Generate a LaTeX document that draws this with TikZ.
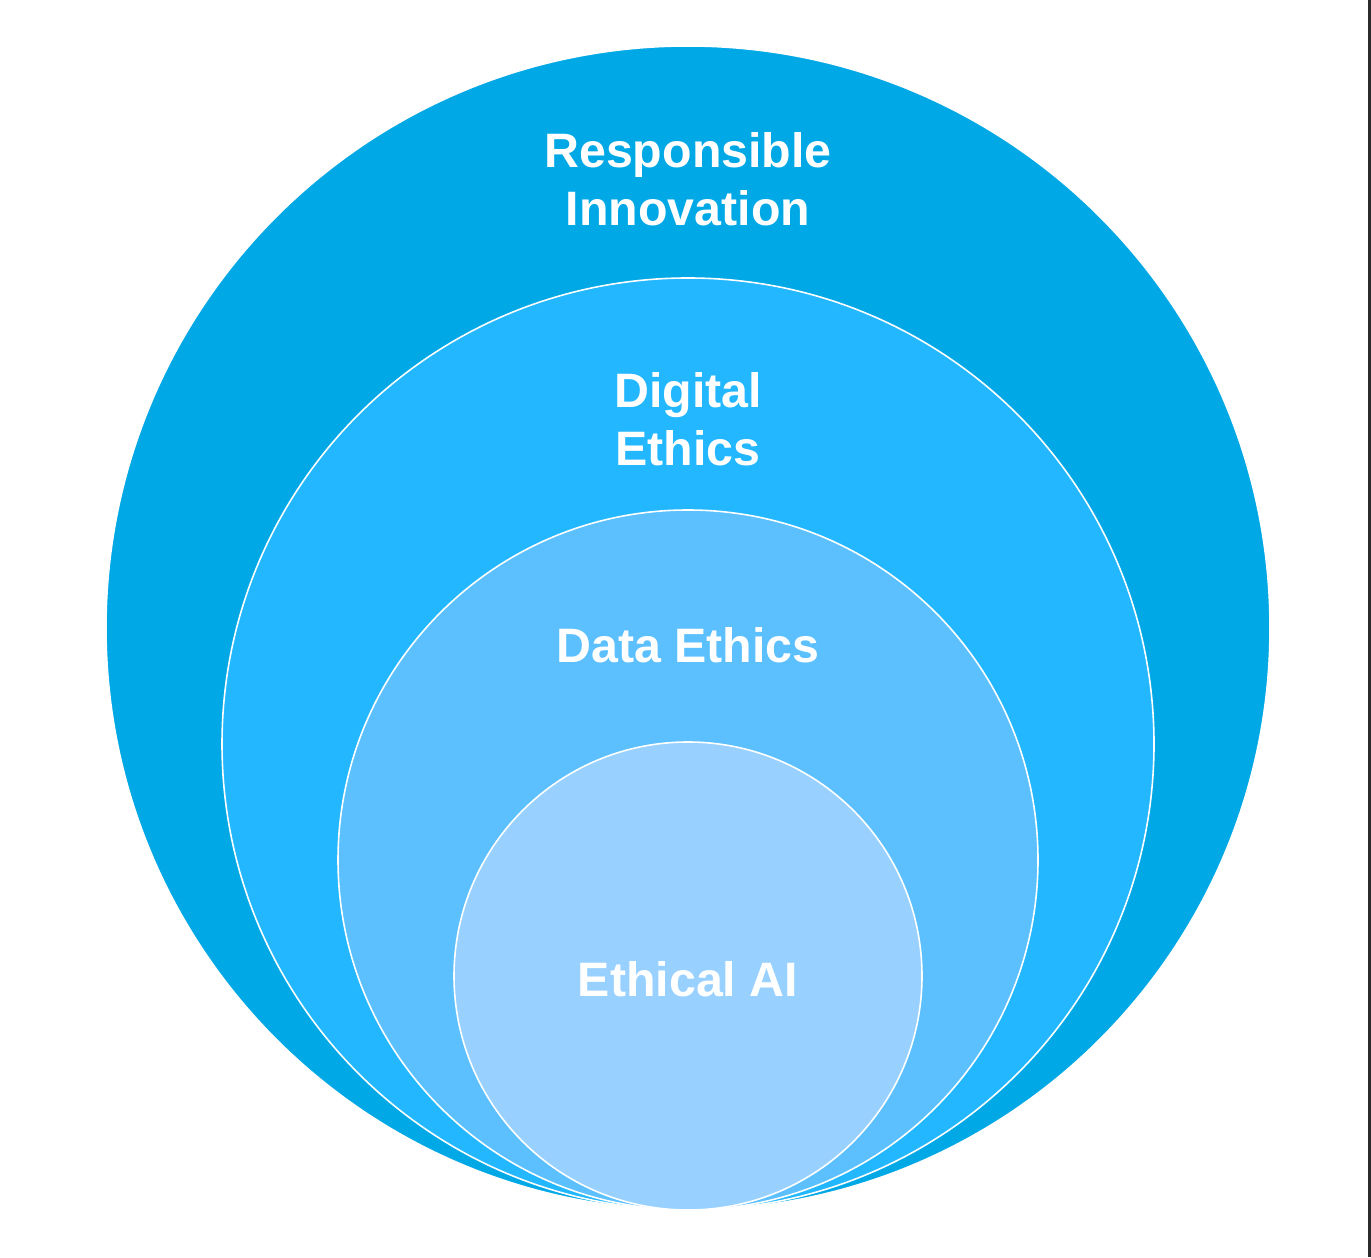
\documentclass[tikz,border=0pt]{standalone}
\usepackage{fontspec}
\setmainfont{Liberation Sans}
\usepackage{tikz}
\usetikzlibrary{positioning, calc}
\definecolor{innovblue}{HTML}{00A8E6}
\definecolor{digitalblue}{HTML}{22B7FF}
\definecolor{datablue}{HTML}{5CC0FF}
\definecolor{aiblue}{HTML}{98D1FF}
\definecolor{edgegray}{HTML}{2B2B2B}

\begin{document}
\begin{tikzpicture}[x=0.02cm, y=0.02cm,
    ringlabel/.style={text=white, font=\bfseries\fontsize{27.5}{33}\selectfont, align=center, inner sep=0pt}]
    \useasboundingbox (0,0) rectangle (1371,1257);
    \fill[white] (0,0) rectangle (1371,1257);
    % thin dark frame edge on the right
    \fill[edgegray] (1368,0) rectangle (1371,1257);
    % nested rings, all touching at the bottom
    \foreach \r/\c in {582/innovblue, 466/digitalblue, 350/datablue, 234/aiblue} {
      \filldraw[fill=\c, draw=white, line width=0.9pt] (688,{47+\r}) circle (\r);
    }
    % labels
    \node[ringlabel] (innov) at (688,1078) {Responsible\\Innovation};
    \node[ringlabel] (digital) at (688,838) {Digital\\Ethics};
    \node[ringlabel] (data) at (688,612) {Data Ethics};
    \node[ringlabel] (ai) at (688,278) {Ethical AI};
\end{tikzpicture}
\end{document}
